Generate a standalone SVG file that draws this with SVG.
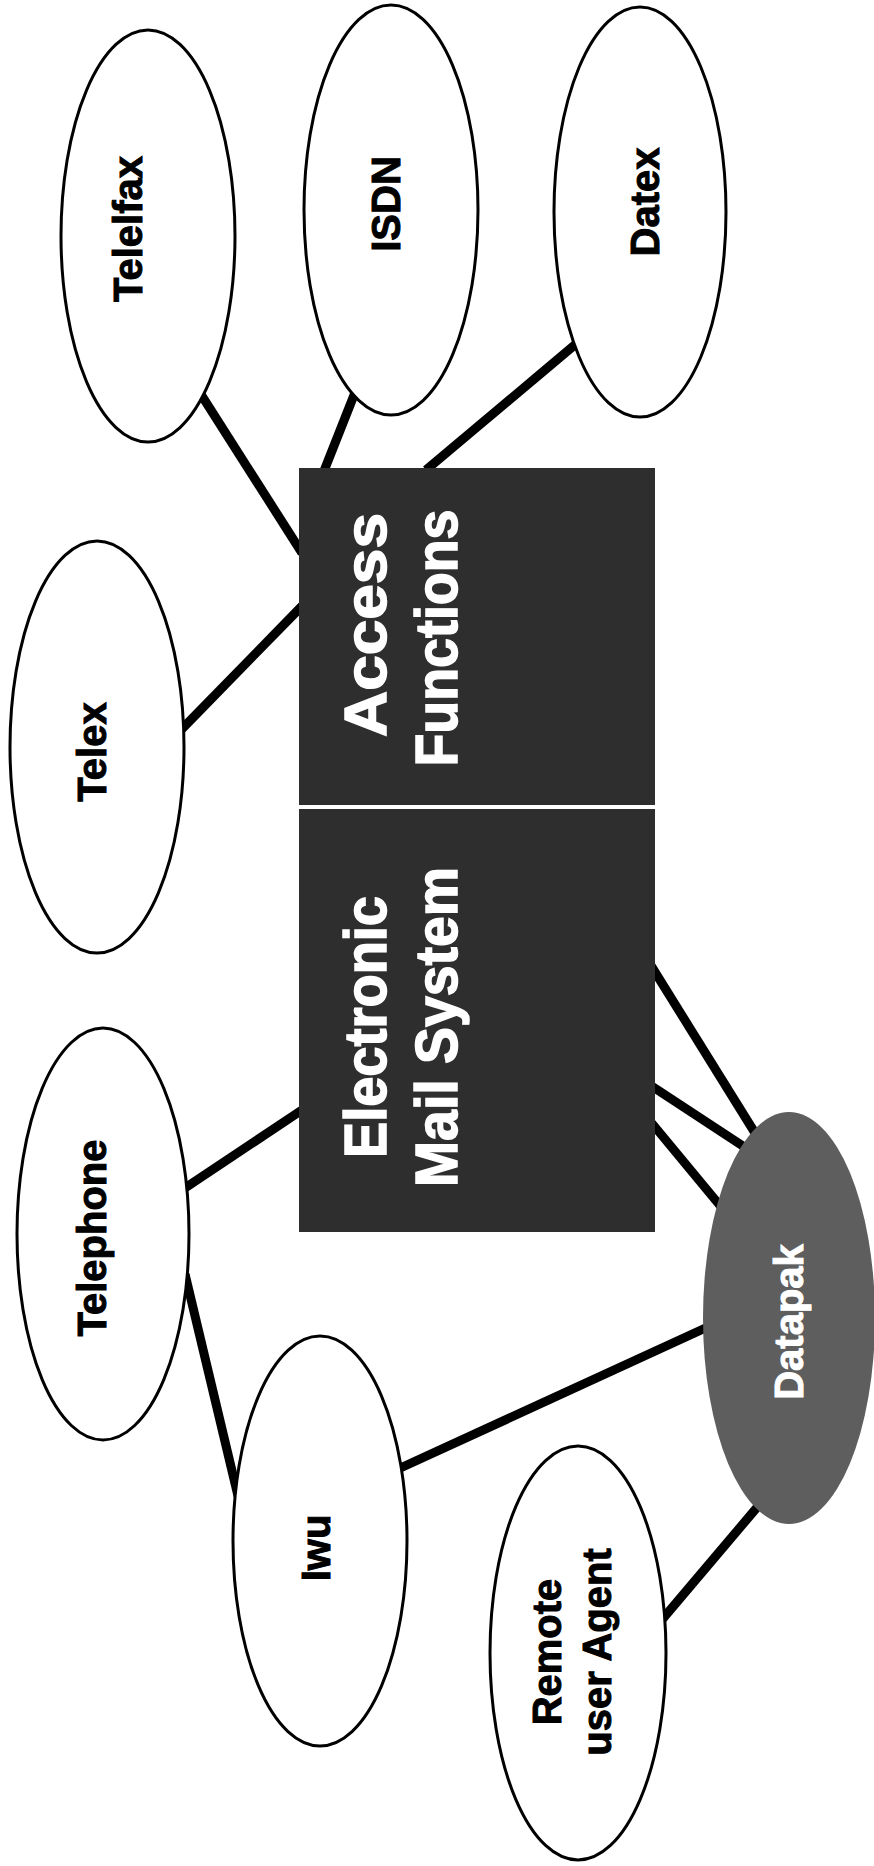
<svg xmlns="http://www.w3.org/2000/svg" width="874" height="1866" viewBox="0 0 874 1866">
<style>
.edge{stroke:#000;stroke-width:9;stroke-linecap:butt;fill:none}
.node{fill:#fff;stroke:#000;stroke-width:3}
.box{fill:#2e2e2e}
.hub{fill:#5e5e5e}
.lbl{font-family:"Liberation Sans",Arial,sans-serif;font-weight:bold;font-size:40px;fill:#000;stroke:#000;stroke-width:1;text-anchor:middle}
.blbl{font-family:"Liberation Sans",Arial,sans-serif;font-weight:bold;font-size:60px;fill:#fff;stroke:#fff;stroke-width:1.5;text-anchor:middle}
.wlbl{fill:#fff;stroke:#fff}
</style>
<rect width="874" height="1866" fill="#fff"/>
<g id="connectors">
<line class="edge" x1="195" y1="385" x2="302" y2="553"/>
<line class="edge" x1="358" y1="385" x2="324" y2="471"/>
<line class="edge" x1="583" y1="338" x2="426" y2="470"/>
<line class="edge" x1="178" y1="733" x2="302" y2="606"/>
<line class="edge" x1="182" y1="1190" x2="302" y2="1110"/>
<line class="edge" x1="185" y1="1274" x2="238" y2="1496"/>
<line class="edge" x1="396" y1="1470" x2="712" y2="1325"/>
<line class="edge" x1="660" y1="1622" x2="765" y2="1498"/>
<line class="edge" x1="650" y1="964" x2="760" y2="1141"/>
<line class="edge" x1="650" y1="1085" x2="752" y2="1152"/>
<line class="edge" x1="650" y1="1121" x2="727" y2="1214"/>
</g>
<g id="access-functions">
<rect class="box" x="299" y="468" width="356" height="337"/>
<text class="blbl" transform="translate(365,625) rotate(-90)" y="21" textLength="224" lengthAdjust="spacingAndGlyphs">Access</text>
<text class="blbl" transform="translate(436,638) rotate(-90)" y="21" textLength="257" lengthAdjust="spacingAndGlyphs">Functions</text>
</g>
<g id="electronic-mail-system">
<rect class="box" x="299" y="809" width="356" height="423"/>
<text class="blbl" transform="translate(365,1027) rotate(-90)" y="21" textLength="262" lengthAdjust="spacingAndGlyphs">Electronic</text>
<text class="blbl" transform="translate(436,1027) rotate(-90)" y="21" textLength="320" lengthAdjust="spacingAndGlyphs">Mail System</text>
</g>
<g id="telelfax">
<ellipse class="node" cx="148" cy="236" rx="87" ry="206"/>
<text class="lbl" transform="translate(128,229) rotate(-90)" y="14">Telelfax</text>
</g>
<g id="isdn">
<ellipse class="node" cx="391" cy="210" rx="87" ry="205"/>
<text class="lbl" transform="translate(386,204) rotate(-90)" y="14">ISDN</text>
</g>
<g id="datex">
<ellipse class="node" cx="640" cy="212" rx="86" ry="205"/>
<text class="lbl" transform="translate(645,202) rotate(-90)" y="14">Datex</text>
</g>
<g id="telex">
<ellipse class="node" cx="97" cy="747" rx="87" ry="206"/>
<text class="lbl" transform="translate(92,752) rotate(-90)" y="14">Telex</text>
</g>
<g id="telephone">
<ellipse class="node" cx="103" cy="1234" rx="86" ry="206"/>
<text class="lbl" transform="translate(92,1238) rotate(-90)" y="14">Telephone</text>
</g>
<g id="iwu">
<ellipse class="node" cx="320" cy="1541" rx="87" ry="205"/>
<text class="lbl" transform="translate(316,1548) rotate(-90)" y="14">Iwu</text>
</g>
<g id="remote-user-agent">
<ellipse class="node" cx="578" cy="1653" rx="88" ry="207"/>
<text class="lbl" transform="translate(547,1652) rotate(-90)" y="14">Remote</text>
<text class="lbl" transform="translate(597,1652) rotate(-90)" y="14">user Agent</text>
</g>
<g id="datapak">
<ellipse class="hub" cx="789" cy="1318" rx="86" ry="206"/>
<text class="lbl wlbl" transform="translate(789,1322) rotate(-90)" y="14">Datapak</text>
</g>
</svg>
